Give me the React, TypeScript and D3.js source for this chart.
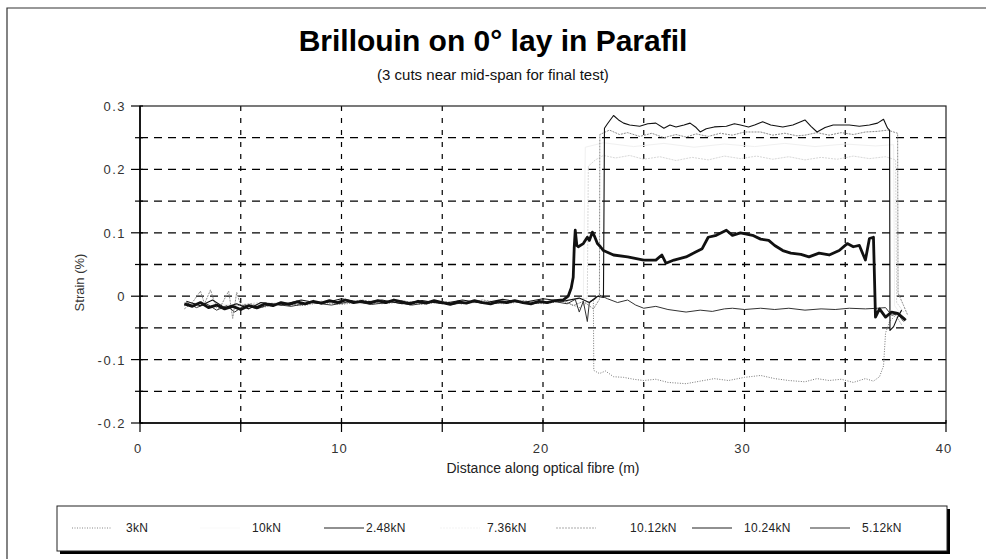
import React from "react";
import * as d3 from "d3";

// distance along fibre (m), strain (%)
const s3kN: [number, number][] = [
  [2.2, -0.015], [3.0, -0.01], [4.0, -0.02], [5.0, -0.014], [6.0, -0.018], [7.0, -0.012],
  [8.0, -0.015], [9.0, -0.01], [10.0, -0.013], [11.0, -0.009], [12.0, -0.012], [13.0, -0.009],
  [14.0, -0.013], [15.0, -0.009], [16.0, -0.012], [17.0, -0.008], [18.0, -0.012], [19.0, -0.009],
  [20.0, -0.012], [21.0, -0.008], [21.8, -0.018], [22.2, -0.01], [22.5, -0.005], [22.52, -0.117],
  [22.8, -0.122], [23.1, -0.118], [23.5, -0.127], [24.0, -0.128], [24.5, -0.131], [25.0, -0.133],
  [25.6, -0.131], [26.2, -0.136], [27.1, -0.138], [27.8, -0.134], [28.5, -0.13], [29.2, -0.133],
  [30.0, -0.128], [30.8, -0.125], [31.5, -0.13], [32.2, -0.133], [33.0, -0.135], [33.6, -0.13],
  [34.2, -0.133], [34.8, -0.131], [35.4, -0.136], [36.0, -0.13], [36.4, -0.134], [36.7, -0.127],
  [36.9, -0.11], [37.0, -0.058], [37.2, -0.04], [37.5, -0.03], [37.8, -0.045],
];

const s10kN: [number, number][] = [
  [2.2, -0.01], [5.0, -0.014], [8.0, -0.009], [11.0, -0.012], [14.0, -0.008], [17.0, -0.011],
  [20.0, -0.008], [22.0, -0.004], [22.1, 0.235], [23.0, 0.242], [24.5, 0.236], [26.0, 0.241],
  [27.5, 0.235], [29.0, 0.24], [30.5, 0.236], [32.0, 0.241], [33.5, 0.236], [35.0, 0.24],
  [36.5, 0.237], [37.4, 0.239], [37.45, -0.015], [37.8, -0.03],
];

const s248kN: [number, number][] = [
  [2.3, -0.01], [2.8, -0.018], [3.3, -0.012], [3.8, -0.022], [4.3, -0.015], [4.7, -0.025],
  [5.2, -0.014], [5.8, -0.02], [6.5, -0.012], [7.5, -0.016], [8.5, -0.01], [9.5, -0.014],
  [10.5, -0.008], [11.5, -0.013], [12.5, -0.009], [13.5, -0.014], [14.5, -0.009], [15.5, -0.013],
  [16.5, -0.008], [17.5, -0.012], [18.5, -0.008], [19.5, -0.012], [20.5, -0.008], [21.2, -0.012],
  [21.6, -0.005], [21.8, -0.025], [22.0, -0.008], [22.2, -0.04], [22.3, -0.01], [22.6, -0.004],
  [22.8, 0.002], [23.2, -0.004], [23.7, -0.01], [24.2, -0.006], [24.6, -0.014], [25.0, -0.019],
  [25.6, -0.016], [26.2, -0.021], [27.1, -0.025], [27.8, -0.022], [28.4, -0.024], [29.0, -0.02],
  [29.4, -0.019], [30.0, -0.021], [30.8, -0.019], [31.5, -0.021], [32.2, -0.019], [33.0, -0.022],
  [33.8, -0.02], [34.5, -0.021], [35.2, -0.019], [36.0, -0.02], [36.6, -0.019], [37.0, -0.018],
  [37.3, -0.03], [37.6, -0.028], [37.9, -0.04],
];

const s736kN: [number, number][] = [
  [2.2, -0.012], [4.0, -0.016], [6.0, -0.01], [8.0, -0.013], [10.0, -0.008], [12.0, -0.011],
  [14.0, -0.008], [16.0, -0.011], [18.0, -0.008], [20.0, -0.01], [21.5, -0.005], [22.2, -0.003],
  [22.25, 0.205], [22.6, 0.215], [23.0, 0.222], [23.6, 0.218], [24.3, 0.222], [25.0, 0.216],
  [25.8, 0.22], [26.6, 0.214], [27.4, 0.219], [28.2, 0.215], [29.0, 0.221], [29.8, 0.217],
  [30.6, 0.221], [31.4, 0.216], [32.2, 0.22], [33.0, 0.215], [33.8, 0.219], [34.6, 0.216],
  [35.4, 0.221], [36.2, 0.217], [37.0, 0.22], [37.5, 0.215], [37.55, -0.01], [37.9, -0.025],
];

const s1012kN: [number, number][] = [
  [2.2, -0.02], [2.6, -0.01], [3.0, 0.008], [3.2, -0.012], [3.5, 0.01], [3.7, -0.01],
  [4.0, -0.016], [4.4, 0.008], [4.6, -0.035], [4.8, 0.006], [5.0, -0.015], [5.5, -0.012],
  [6.0, -0.018], [7.0, -0.01], [8.0, -0.014], [9.0, -0.008], [10.0, -0.012], [11.0, -0.006],
  [12.0, -0.011], [13.0, -0.007], [14.0, -0.012], [15.0, -0.008], [16.0, -0.012], [17.0, -0.006],
  [18.0, -0.011], [19.0, -0.007], [20.0, -0.011], [21.0, -0.005], [21.5, -0.015], [22.0, -0.008],
  [22.5, -0.02], [22.8, -0.005], [22.82, 0.255], [23.3, 0.262], [23.8, 0.255], [24.2, 0.258],
  [24.8, 0.252], [25.4, 0.257], [26.0, 0.25], [26.6, 0.255], [27.1, 0.251], [27.6, 0.256],
  [28.2, 0.252], [28.8, 0.257], [29.4, 0.254], [30.0, 0.259], [30.8, 0.259], [31.4, 0.254],
  [32.0, 0.257], [32.6, 0.253], [33.0, 0.254], [33.6, 0.258], [34.2, 0.254], [34.8, 0.258],
  [35.4, 0.255], [36.0, 0.259], [36.6, 0.26], [37.1, 0.262], [37.6, 0.257], [37.62, 0.005],
  [37.9, -0.015], [38.1, -0.03],
];

const s1024kN: [number, number][] = [
  [2.3, -0.008], [3.0, -0.015], [3.6, -0.006], [4.2, -0.018], [4.8, -0.012], [5.4, -0.02],
  [6.0, -0.01], [7.0, -0.014], [8.0, -0.006], [9.0, -0.012], [10.0, -0.004], [11.0, -0.01],
  [12.0, -0.006], [13.0, -0.012], [14.0, -0.007], [15.0, -0.012], [16.0, -0.006], [17.0, -0.011],
  [18.0, -0.005], [19.0, -0.01], [20.0, -0.004], [21.0, -0.008], [21.8, -0.003], [22.3, -0.01],
  [22.7, 0.0], [23.0, -0.002], [23.05, 0.265], [23.2, 0.272], [23.5, 0.285], [23.75, 0.278],
  [24.0, 0.273], [24.3, 0.27], [24.8, 0.268], [25.2, 0.272], [25.6, 0.273], [26.0, 0.265],
  [26.3, 0.27], [26.6, 0.267], [27.0, 0.27], [27.3, 0.273], [27.6, 0.266], [27.8, 0.259],
  [28.1, 0.264], [28.5, 0.267], [29.1, 0.268], [29.5, 0.272], [29.8, 0.27], [30.2, 0.267],
  [30.5, 0.27], [30.9, 0.275], [31.3, 0.27], [31.9, 0.267], [32.4, 0.27], [33.0, 0.278],
  [33.3, 0.268], [33.6, 0.259], [34.0, 0.266], [34.4, 0.27], [35.2, 0.27], [35.7, 0.268],
  [36.2, 0.27], [36.6, 0.273], [36.9, 0.279], [37.1, 0.265], [37.2, 0.262], [37.22, -0.054],
  [37.4, -0.048], [37.6, -0.033], [37.8, -0.022],
];

const s512kN: [number, number][] = [
  [2.2, -0.012], [2.6, -0.016], [3.0, -0.01], [3.4, -0.018], [3.8, -0.014], [4.2, -0.02],
  [4.6, -0.016], [5.0, -0.021], [5.4, -0.015], [5.8, -0.018], [6.2, -0.012], [6.6, -0.015],
  [7.0, -0.01], [7.4, -0.013], [7.8, -0.009], [8.2, -0.012], [8.6, -0.008], [9.0, -0.011],
  [9.4, -0.007], [9.8, -0.01], [10.2, -0.006], [10.6, -0.01], [11.0, -0.008], [11.4, -0.011],
  [11.8, -0.007], [12.2, -0.01], [12.6, -0.006], [13.0, -0.009], [13.4, -0.012], [13.8, -0.008],
  [14.2, -0.011], [14.6, -0.007], [15.0, -0.01], [15.4, -0.013], [15.8, -0.009], [16.2, -0.011],
  [16.6, -0.007], [17.0, -0.01], [17.4, -0.012], [17.8, -0.008], [18.2, -0.01], [18.6, -0.007],
  [19.0, -0.01], [19.4, -0.012], [19.8, -0.008], [20.2, -0.01], [20.6, -0.007], [21.0, -0.006],
  [21.25, 0.0], [21.4, 0.013], [21.5, 0.03], [21.55, 0.077], [21.6, 0.104], [21.68, 0.08],
  [21.75, 0.078], [22.0, 0.083], [22.2, 0.093], [22.3, 0.088], [22.45, 0.101], [22.55, 0.095],
  [22.7, 0.083], [22.85, 0.078], [23.0, 0.072], [23.5, 0.065], [24.2, 0.062], [25.0, 0.057],
  [25.6, 0.057], [25.9, 0.065], [26.1, 0.052], [26.5, 0.057], [27.1, 0.062], [27.6, 0.07],
  [27.9, 0.075], [28.2, 0.093], [28.6, 0.096], [29.1, 0.104], [29.4, 0.096], [29.8, 0.1],
  [30.4, 0.096], [30.8, 0.09], [31.2, 0.088], [31.5, 0.08], [31.9, 0.072], [32.3, 0.068],
  [32.8, 0.066], [33.2, 0.062], [33.7, 0.068], [34.2, 0.065], [34.7, 0.072], [35.1, 0.083],
  [35.4, 0.078], [35.7, 0.08], [36.0, 0.057], [36.2, 0.091], [36.4, 0.093], [36.5, -0.033],
  [36.7, -0.02], [37.0, -0.033], [37.3, -0.025], [37.6, -0.027], [37.9, -0.035], [38.0, -0.038],
];

const legendNames = ["3kN", "10kN", "2.48kN", "7.36kN", "10.12kN", "10.24kN", "5.12kN"];
const xTicks = [0, 10, 20, 30, 40];
const yTicks = [0.3, 0.2, 0.1, 0, -0.1, -0.2];
const yTickLabels = ["0.3", "0.2", "0.1", "0", "-0.1", "-0.2"];

const series = [
  { name: "10kN", data: s10kN, color: "#f0f0f0", width: 1, dash: "", legend: "#fafafa" },
  { name: "7.36kN", data: s736kN, color: "#d8d8d8", width: 1, dash: "2 1", legend: "#f4f4f4" },
  { name: "3kN", data: s3kN, color: "#777", width: 1, dash: "1 1.5", legend: "#888" },
  { name: "10.12kN", data: s1012kN, color: "#8a8a8a", width: 1, dash: "2 1", legend: "#aaa" },
  { name: "2.48kN", data: s248kN, color: "#333", width: 1, dash: "", legend: "#222" },
  { name: "10.24kN", data: s1024kN, color: "#111", width: 1.1, dash: "", legend: "#222" },
  { name: "5.12kN", data: s512kN, color: "#111", width: 2.8, dash: "", legend: "#333" },
];

// legend placement (sample start x, label x)
const legendPos = [
  { sx: 72, lx: 126 },
  { sx: 200, lx: 252 },
  { sx: 324, lx: 366 },
  { sx: 440, lx: 487 },
  { sx: 556, lx: 630 },
  { sx: 692, lx: 744 },
  { sx: 810, lx: 862 },
];

const font = "'Liberation Sans', Arial, sans-serif";

export default function App() {
  const left = 140, right = 946, top = 106, bottom = 423;
  const x = d3.scaleLinear().domain([0, 40]).range([left, right]);
  const y = d3.scaleLinear().domain([-0.2, 0.3]).range([bottom, top]);
  const line = d3
    .line<[number, number]>()
    .x((d) => x(d[0]))
    .y((d) => y(d[1]));

  const hGrid = d3.range(-0.15, 0.26, 0.05);
  const vGrid = d3.range(5, 36, 5);
  const yMinor = d3.range(-0.2, 0.31, 0.05);
  const xMinor = d3.range(0, 41, 5);

  return (
    <svg width={986} height={559} style={{ position: "absolute", left: 0, top: 0, background: "#fff" }}>
      <rect x={0} y={0} width={986} height={559} fill="#fff" />
      {/* outer frame */}
      <path d="M7,559 V8 H986" fill="none" stroke="#333" strokeWidth={1.2} />

      <text x={493} y={51} textAnchor="middle" fontFamily={font} fontWeight="bold" fontSize={30} fill="#000">
        Brillouin on 0° lay in Parafil
      </text>
      <text x={493} y={80} textAnchor="middle" fontFamily={font} fontSize={15} fill="#111">
        (3 cuts near mid-span for final test)
      </text>

      {/* grid */}
      {hGrid.map((v) => (
        <line key={"h" + v} x1={left} x2={right} y1={y(v)} y2={y(v)} stroke="#000" strokeWidth={1.3} strokeDasharray="8 6" />
      ))}
      {vGrid.map((v) => (
        <line key={"v" + v} x1={x(v)} x2={x(v)} y1={top} y2={bottom} stroke="#000" strokeWidth={1.2} strokeDasharray="5 7" />
      ))}

      {/* series */}
      {series.map((s) => (
        <path key={s.name} d={line(s.data) || ""} fill="none" stroke={s.color} strokeWidth={s.width}
          strokeDasharray={s.dash || undefined} strokeLinejoin="round" />
      ))}

      {/* plot frame */}
      <rect x={left} y={top} width={right - left} height={bottom - top} fill="none" stroke="#222" strokeWidth={1.2} />
      <line x1={left} x2={left} y1={top} y2={bottom} stroke="#000" strokeWidth={1.6} />
      <line x1={left} x2={right} y1={bottom} y2={bottom} stroke="#000" strokeWidth={1.6} />

      {/* y ticks */}
      {yMinor.map((v, i) => (
        <line key={"yt" + i} x1={i % 2 === 0 ? left - 9 : left - 5} x2={left + 3} y1={y(v)} y2={y(v)} stroke="#000" strokeWidth={1.2} />
      ))}
      {yTicks.map((v, i) => (
        <text key={"yl" + v} x={126} y={y(v) + 5} textAnchor="end" fontFamily={font} fontSize={13} letterSpacing={1.5} fill="#333">
          {yTickLabels[i]}
        </text>
      ))}
      <text transform={`translate(84,${y(0.05) + 18}) rotate(-90)`} textAnchor="middle" fontFamily={font} fontSize={13} fill="#333">
        Strain (%)
      </text>

      {/* x ticks */}
      {xMinor.map((v) => (
        <line key={"xt" + v} x1={x(v)} x2={x(v)} y1={bottom - 3} y2={bottom + 9} stroke="#000" strokeWidth={1.2} />
      ))}
      {xTicks.map((v) => (
        <text key={"xl" + v} x={x(v) - 2} y={453} textAnchor="middle" fontFamily={font} fontSize={13} letterSpacing={1} fill="#333">
          {v}
        </text>
      ))}
      <text x={543} y={473} textAnchor="middle" fontFamily={font} fontSize={14} fill="#222">
        Distance along optical fibre (m)
      </text>

      {/* legend */}
      <rect x={60} y={509} width={890} height={45} fill="#000" />
      <rect x={57} y={506} width={890} height={45} fill="#fff" stroke="#222" strokeWidth={1} />
      {legendNames.map((name, i) => {
        const s = series.find((d) => d.name === name)!;
        const p = legendPos[i];
        return (
          <g key={name}>
            <line x1={p.sx} x2={p.sx + 40} y1={528} y2={528} stroke={s.legend} strokeWidth={1.2}
              strokeDasharray={s.dash || undefined} />
            <text x={p.lx} y={532} fontFamily={font} fontSize={12} letterSpacing={0.3} fill="#222">
              {name}
            </text>
          </g>
        );
      })}
    </svg>
  );
}
